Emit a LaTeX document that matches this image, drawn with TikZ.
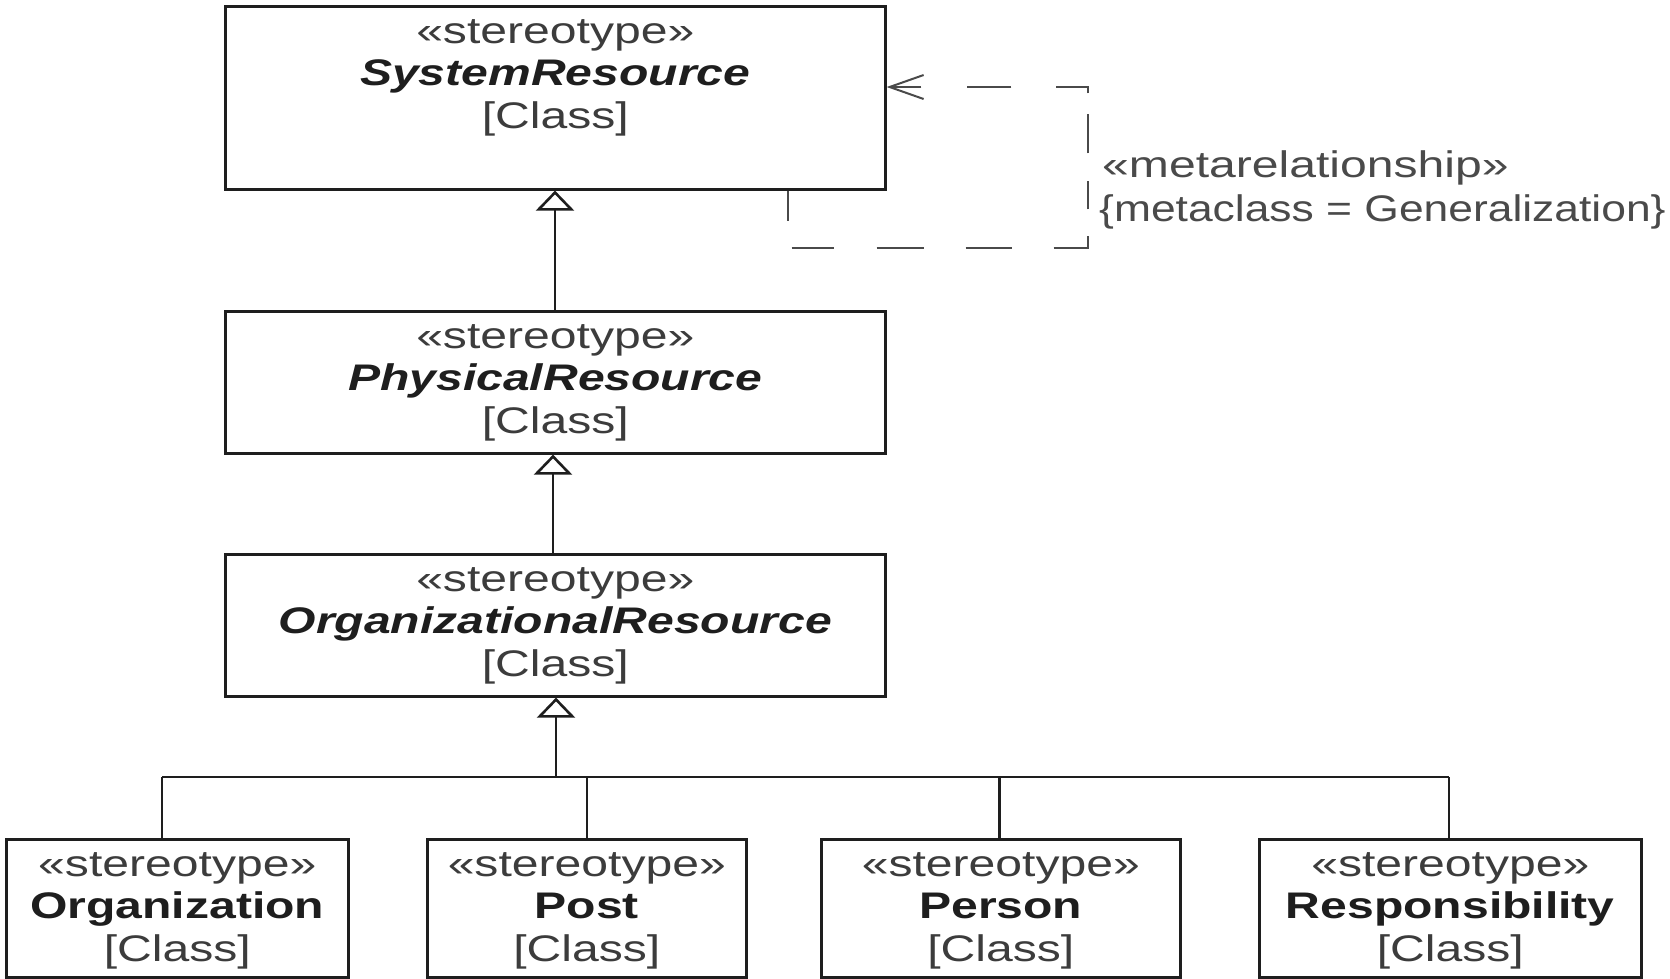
\documentclass[tikz,border=0pt]{standalone}
\usepackage{fontspec}
\setmainfont{Liberation Sans}
\newfontfamily\umlfont[FakeStretch=1.3]{Liberation Sans}
\newfontfamily\notefont[FakeStretch=1.2]{Liberation Sans}
\usetikzlibrary{arrows.meta,calc}
\definecolor{ink}{HTML}{1E1E1E}
\definecolor{soft}{HTML}{3C3C3C}
\definecolor{note}{HTML}{4A4A4A}
\begin{document}
\begin{tikzpicture}[x=1pt,y=-1pt,
  classbox/.style={draw=ink, line width=2.6pt, rectangle, anchor=north west, inner sep=0pt},
  txt/.style={anchor=base, inner sep=0pt, font=\umlfont\fontsize{37}{44}\selectfont},
  stereo/.style={txt, text=soft},
  kind/.style={txt, text=soft},
  absname/.style={txt, text=ink, font=\umlfont\fontsize{37}{44}\selectfont\bfseries\itshape},
  concname/.style={txt, text=ink, font=\umlfont\fontsize{37}{44}\selectfont\bfseries},
  conn/.style={draw=ink, line width=2.6pt},
  gen/.style={conn, -{Triangle[open, length=20pt, width=38pt, fill=white]}},
  metarel/.style={draw=note, line width=2pt,
    dash pattern=on 30pt off 31pt on 42pt off 43pt on 47pt off 42pt on 46pt off 42pt
      on 46pt off 27pt on 28pt off 28pt on 39pt off 21pt on 38pt off 45pt
      on 44pt off 46pt on 60pt off 100pt,
    -{Straight Barb[length=34pt, width=24pt]}},
  notetxt/.style={anchor=base west, inner sep=0pt, text=note,
    font=\umlfont\fontsize{37}{44}\selectfont}
]
\useasboundingbox (0,0) rectangle (1670,978);
\fill[white] (0,0) rectangle (1670,978);

% class boxes
\node[classbox, minimum width=660pt, minimum height=183pt] (sr) at (224,5) {};
\node[classbox, minimum width=660pt, minimum height=142pt] (pr) at (224,310) {};
\node[classbox, minimum width=660pt, minimum height=142pt] (or) at (224,553) {};
\node[classbox, minimum width=342pt, minimum height=138pt] (org) at (5,838) {};
\node[classbox, minimum width=319pt, minimum height=138pt] (post) at (426,838) {};
\node[classbox, minimum width=359pt, minimum height=138pt] (pers) at (820,838) {};
\node[classbox, minimum width=382pt, minimum height=138pt] (resp) at (1258,838) {};

% box contents
\foreach \b/\n/\s in {sr/SystemResource/absname, pr/PhysicalResource/absname,
    or/OrganizationalResource/absname, org/Organization/concname,
    post/Post/concname, pers/Person/concname, resp/Responsibility/concname}{
  \node[stereo] (\b-st) at ($(\b.north)+(0,38)$) {«stereotype»};
  \node[\s] (\b-nm) at ($(\b.north)+(0,80)$) {\n};
  \node[kind] (\b-cl) at ($(\b.north)+(0,123)$) {[Class]};
}

% generalizations
\coordinate (g1) at (555,310);
\draw[gen] (g1) -- (g1 |- sr.south);
\coordinate (g2) at (553,553);
\draw[gen] (g2) -- (g2 |- pr.south);

\coordinate (j) at (556,777);
\coordinate (jo) at (162,777);
\coordinate (jp) at (587,777);
\coordinate (jn) at (999.5,777);
\coordinate (jr) at (1449,777);
\draw[conn] (jo) -- (jr);
\draw[conn] (jo) -- (jo |- org.north);
\draw[conn] (jp) -- (jp |- post.north);
\draw[conn] (jn) -- (jn |- pers.north);
\draw[conn] (jr) -- (jr |- resp.north);
\draw[gen] (j) -- (j |- or.south);

% metarelationship loop
\coordinate (d1) at (788,248);
\coordinate (d2) at (1088,248);
\coordinate (d3) at (1088,87);
\draw[metarel] (d1 |- sr.south) -- (d1) -- (d2) -- (d3) -- (d3 -| sr.east);
\node[notetxt] (mr) at (1102,177) {«metarelationship»};
\node[notetxt, font=\notefont\fontsize{37}{44}\selectfont] (mc) at (1099,221)
  {\{metaclass = Generalization\}};
\end{tikzpicture}
\end{document}
